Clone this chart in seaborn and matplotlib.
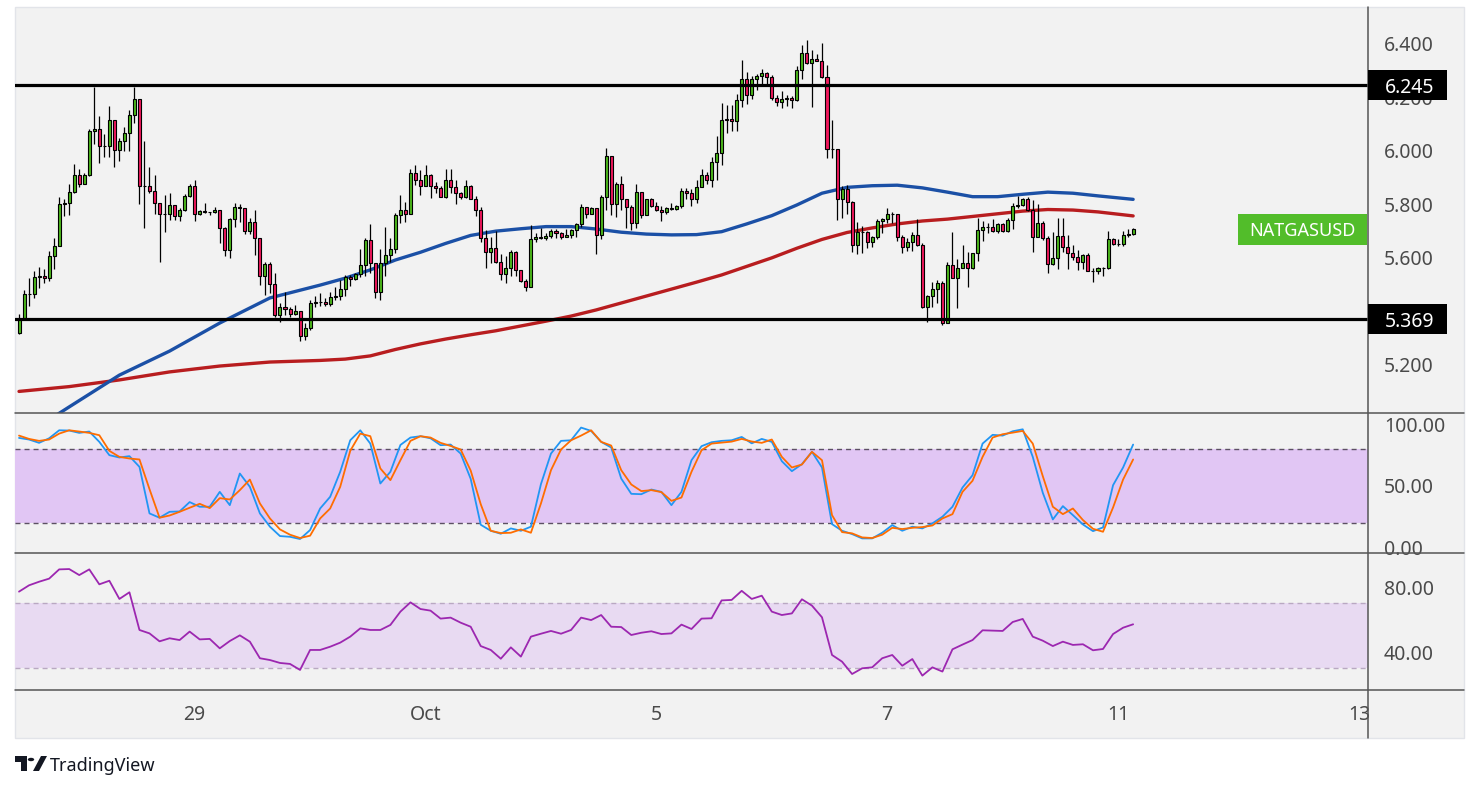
import numpy as np
import pandas as pd
import seaborn as sns
import matplotlib.pyplot as plt
from matplotlib.lines import Line2D
from matplotlib.patches import Rectangle, Polygon, Circle

# ---- hourly candles (bar 0 = first visible bar), open = previous close ----
first_open = 5.317
closes = [
    5.369, 5.463, 5.463, 5.529, 5.531, 5.525, 5.606, 5.644, 5.800, 5.803,
    5.844, 5.911, 5.877, 5.911, 6.073, 6.083, 6.018, 6.018, 6.114, 6.002,
    6.036, 6.068, 6.135, 6.195, 5.869, 5.869, 5.850, 5.806, 5.762, 5.764,
    5.796, 5.755, 5.778, 5.830, 5.868, 5.765, 5.774, 5.772, 5.770, 5.780,
    5.709, 5.628, 5.743, 5.790, 5.784, 5.701, 5.735, 5.672, 5.532, 5.575,
    5.500, 5.385, 5.416, 5.407, 5.388, 5.400, 5.307, 5.335, 5.431, 5.435,
    5.435, 5.425, 5.454, 5.456, 5.481, 5.526, 5.519, 5.537, 5.572, 5.666,
    5.578, 5.473, 5.578, 5.610, 5.631, 5.759, 5.778, 5.765, 5.915, 5.890,
    5.869, 5.909, 5.869, 5.859, 5.825, 5.892, 5.865, 5.840, 5.825, 5.868,
    5.821, 5.780, 5.672, 5.622, 5.635, 5.585, 5.537, 5.560, 5.622, 5.553,
    5.514, 5.491, 5.668, 5.676, 5.674, 5.681, 5.699, 5.691, 5.676, 5.684,
    5.703, 5.724, 5.788, 5.765, 5.784, 5.684, 5.825, 5.980, 5.799, 5.874,
    5.818, 5.790, 5.730, 5.844, 5.759, 5.818, 5.793, 5.780, 5.772, 5.784,
    5.781, 5.793, 5.850, 5.843, 5.821, 5.865, 5.909, 5.892, 5.956, 5.993,
    6.114, 6.120, 6.112, 6.191, 6.270, 6.210, 6.270, 6.279, 6.292, 6.276,
    6.198, 6.183, 6.193, 6.199, 6.191, 6.301, 6.367, 6.330, 6.345, 6.336,
    6.276, 6.005, 6.008, 5.821, 5.855, 5.809, 5.647, 5.697, 5.697, 5.659,
    5.676, 5.737, 5.743, 5.762, 5.762, 5.678, 5.638, 5.657, 5.684, 5.647,
    5.416, 5.456, 5.482, 5.504, 5.354, 5.572, 5.522, 5.560, 5.578, 5.560,
    5.616, 5.703, 5.716, 5.716, 5.699, 5.724, 5.699, 5.740, 5.793, 5.796,
    5.821, 5.778, 5.678, 5.728, 5.674, 5.575, 5.597, 5.681, 5.641, 5.616,
    5.603, 5.582, 5.610, 5.551, 5.551, 5.562, 5.560, 5.668, 5.649, 5.649,
    5.684, 5.687, 5.707,
]
highs = [
    5.388, 5.479, 5.522, 5.551, 5.563, 5.556, 5.625, 5.672, 5.828, 5.821,
    5.875, 5.952, 5.933, 5.915, 6.081, 6.239, 6.129, 6.064, 6.167, 6.114,
    6.049, 6.089, 6.152, 6.239, 6.195, 6.036, 5.940, 5.909, 5.806, 5.834,
    5.840, 5.796, 5.784, 5.838, 5.877, 5.890, 5.780, 5.803, 5.772, 5.790,
    5.780, 5.716, 5.749, 5.803, 5.799, 5.784, 5.747, 5.780, 5.672, 5.585,
    5.585, 5.541, 5.431, 5.473, 5.416, 5.423, 5.400, 5.354, 5.441, 5.458,
    5.466, 5.448, 5.473, 5.491, 5.516, 5.535, 5.535, 5.544, 5.632, 5.672,
    5.725, 5.578, 5.632, 5.716, 5.672, 5.768, 5.834, 5.809, 5.933, 5.948,
    5.927, 5.948, 5.912, 5.884, 5.868, 5.930, 5.930, 5.890, 5.846, 5.892,
    5.871, 5.830, 5.790, 5.703, 5.678, 5.699, 5.613, 5.607, 5.628, 5.626,
    5.553, 5.519, 5.722, 5.693, 5.709, 5.693, 5.707, 5.707, 5.697, 5.707,
    5.707, 5.730, 5.799, 5.790, 5.790, 5.786, 5.834, 6.011, 5.980, 5.884,
    5.905, 5.821, 5.796, 5.877, 5.846, 5.821, 5.824, 5.809, 5.793, 5.790,
    5.803, 5.796, 5.859, 5.859, 5.855, 5.890, 5.930, 5.921, 5.975, 6.054,
    6.177, 6.170, 6.170, 6.211, 6.338, 6.295, 6.279, 6.286, 6.307, 6.295,
    6.282, 6.210, 6.223, 6.210, 6.205, 6.316, 6.395, 6.413, 6.376, 6.363,
    6.405, 6.320, 6.114, 6.008, 5.869, 5.871, 5.813, 5.732, 5.718, 5.701,
    5.682, 5.743, 5.750, 5.784, 5.772, 5.765, 5.684, 5.674, 5.697, 5.743,
    5.656, 5.460, 5.507, 5.516, 5.514, 5.582, 5.697, 5.595, 5.647, 5.622,
    5.618, 5.747, 5.738, 5.728, 5.743, 5.730, 5.728, 5.747, 5.803, 5.831,
    5.824, 5.825, 5.815, 5.800, 5.738, 5.682, 5.697, 5.750, 5.750, 5.684,
    5.647, 5.628, 5.612, 5.618, 5.560, 5.566, 5.566, 5.699, 5.672, 5.668,
    5.701, 5.707, 5.709,
]
lows = [
    5.313, 5.373, 5.419, 5.450, 5.487, 5.504, 5.514, 5.556, 5.644, 5.757,
    5.759, 5.840, 5.865, 5.875, 5.906, 6.027, 5.955, 5.975, 5.975, 5.940,
    5.962, 6.000, 6.000, 6.104, 5.799, 5.712, 5.840, 5.763, 5.585, 5.697,
    5.740, 5.740, 5.737, 5.775, 5.828, 5.738, 5.758, 5.768, 5.758, 5.768,
    5.656, 5.606, 5.600, 5.713, 5.733, 5.688, 5.687, 5.610, 5.497, 5.460,
    5.466, 5.379, 5.360, 5.385, 5.377, 5.385, 5.286, 5.292, 5.329, 5.416,
    5.419, 5.419, 5.419, 5.441, 5.441, 5.458, 5.494, 5.516, 5.529, 5.531,
    5.541, 5.448, 5.441, 5.532, 5.582, 5.618, 5.730, 5.734, 5.763, 5.871,
    5.836, 5.868, 5.824, 5.843, 5.825, 5.824, 5.840, 5.799, 5.818, 5.824,
    5.819, 5.757, 5.657, 5.562, 5.578, 5.578, 5.516, 5.506, 5.531, 5.531,
    5.510, 5.476, 5.491, 5.659, 5.668, 5.666, 5.674, 5.674, 5.668, 5.676,
    5.672, 5.678, 5.716, 5.747, 5.762, 5.612, 5.668, 5.778, 5.759, 5.753,
    5.778, 5.712, 5.703, 5.712, 5.749, 5.759, 5.790, 5.775, 5.738, 5.765,
    5.778, 5.778, 5.786, 5.821, 5.794, 5.803, 5.865, 5.875, 5.865, 5.892,
    5.948, 6.067, 6.073, 6.074, 6.164, 6.174, 6.195, 6.226, 6.251, 6.251,
    6.189, 6.168, 6.160, 6.168, 6.160, 6.186, 6.270, 6.323, 6.164, 6.335,
    6.272, 5.973, 5.971, 5.740, 5.747, 5.763, 5.622, 5.613, 5.616, 5.637,
    5.641, 5.668, 5.693, 5.728, 5.730, 5.663, 5.618, 5.626, 5.625, 5.643,
    5.410, 5.360, 5.414, 5.429, 5.348, 5.354, 5.522, 5.413, 5.566, 5.491,
    5.557, 5.588, 5.663, 5.691, 5.697, 5.691, 5.697, 5.697, 5.707, 5.784,
    5.793, 5.775, 5.622, 5.676, 5.666, 5.544, 5.572, 5.556, 5.622, 5.556,
    5.591, 5.553, 5.556, 5.551, 5.507, 5.539, 5.532, 5.557, 5.647, 5.643,
    5.643, 5.678, 5.684,
]

# ---- moving averages, read at these bars ----
ma_bars = [0, 10, 20, 30, 40, 50, 60, 65, 70, 75, 80, 85, 90, 95, 100, 105,
           110, 115, 120, 125, 130, 135, 140, 145, 150, 155, 160, 165, 170,
           175, 180, 185, 190, 195, 200, 205, 210, 215, 222]
ma_fast = [4.921, 5.041, 5.160, 5.250, 5.355, 5.449, 5.497, 5.523, 5.554,
           5.591, 5.620, 5.653, 5.683, 5.699, 5.708, 5.716, 5.716, 5.707,
           5.695, 5.688, 5.685, 5.686, 5.697, 5.726, 5.757, 5.797, 5.841,
           5.863, 5.869, 5.871, 5.861, 5.845, 5.828, 5.828, 5.837, 5.845,
           5.841, 5.831, 5.818]
ma_slow = [5.099, 5.117, 5.142, 5.172, 5.194, 5.209, 5.215, 5.220, 5.232,
           5.256, 5.277, 5.295, 5.311, 5.326, 5.344, 5.362, 5.381, 5.404,
           5.430, 5.456, 5.482, 5.508, 5.535, 5.567, 5.599, 5.635, 5.668,
           5.694, 5.711, 5.726, 5.737, 5.744, 5.754, 5.764, 5.774, 5.780,
           5.778, 5.771, 5.756]

# ---- oscillators, read every second bar ----
osc_bars = list(range(0, 223, 2))
stoch_k = [
    88.9, 87.6, 84.9, 88.6, 95.1, 94.9, 93.0, 94.1, 85.7, 74.9,
    73.0, 74.1, 65.4, 27.6, 24.1, 28.9, 29.2, 36.8, 33.0, 33.0,
    45.1, 34.3, 60.0, 49.2, 27.6, 16.8, 9.2, 8.6, 6.8, 14.1,
    31.6, 41.1, 61.4, 87.0, 95.1, 84.3, 51.9, 61.4, 83.2, 89.2,
    90.3, 88.6, 83.0, 83.5, 76.2, 55.7, 18.4, 13.5, 11.1, 15.4,
    13.5, 16.8, 51.4, 76.2, 86.5, 87.0, 97.3, 94.6, 85.7, 81.1,
    55.9, 43.5, 43.2, 47.0, 45.1, 34.3, 45.1, 70.8, 82.2, 85.4,
    86.5, 87.0, 89.7, 84.5, 88.1, 85.7, 70.0, 61.9, 67.6, 77.6,
    64.9, 18.9, 13.5, 10.8, 7.3, 7.3, 11.9, 18.1, 13.5, 16.8,
    15.4, 19.5, 24.9, 33.0, 48.6, 58.6, 84.3, 91.4, 90.8, 94.3,
    95.9, 73.5, 44.3, 22.7, 33.5, 26.2, 18.6, 13.2, 16.2, 50.5,
    64.9, 83.5,
]
stoch_d = [
    90.8, 88.1, 86.5, 87.6, 92.4, 95.1, 94.1, 93.0, 91.1, 78.4,
    73.5, 72.2, 71.4, 47.3, 24.1, 25.9, 28.9, 32.2, 35.4, 31.9,
    40.0, 38.9, 46.5, 55.1, 35.7, 23.5, 14.6, 10.3, 7.6, 9.5,
    23.5, 31.6, 49.2, 78.4, 92.4, 90.3, 64.1, 54.6, 70.8, 86.5,
    90.3, 89.2, 84.9, 82.4, 79.5, 62.4, 35.1, 13.5, 11.6, 11.9,
    14.6, 11.9, 35.7, 62.7, 79.5, 87.0, 90.8, 95.1, 85.7, 82.7,
    62.7, 51.1, 45.7, 46.5, 44.9, 37.8, 40.5, 61.4, 78.9, 84.3,
    85.1, 85.9, 88.1, 86.0, 84.9, 87.6, 73.5, 64.9, 67.3, 77.6,
    70.8, 26.2, 12.4, 11.4, 8.1, 7.6, 10.3, 15.9, 14.9, 15.9,
    16.5, 17.8, 23.5, 27.0, 45.1, 54.1, 73.5, 89.2, 91.9, 93.2,
    94.6, 84.3, 57.8, 33.0, 27.0, 31.6, 22.2, 15.1, 12.7, 32.4,
    55.1, 71.4,
]
rsi = [
    77.2, 81.1, 83.3, 85.2, 90.9, 91.1, 87.4, 90.9, 81.7, 83.9,
    72.7, 76.8, 53.6, 51.5, 46.6, 48.5, 47.4, 52.6, 47.8, 48.1,
    42.3, 46.8, 50.3, 46.4, 36.2, 35.1, 33.3, 32.7, 29.0, 41.3,
    41.3, 43.3, 45.8, 49.5, 54.6, 53.6, 53.6, 56.7, 64.9, 70.6,
    66.5, 65.5, 60.6, 61.2, 58.1, 55.6, 43.7, 41.3, 35.9, 42.9,
    37.2, 49.5, 51.3, 53.0, 51.3, 53.6, 61.2, 59.7, 62.8, 55.6,
    55.4, 50.5, 51.9, 52.8, 51.1, 51.5, 56.9, 54.2, 60.6, 60.8,
    71.8, 72.1, 77.7, 72.7, 74.7, 64.9, 62.8, 63.8, 72.5, 68.6,
    61.4, 38.2, 34.1, 26.5, 30.0, 30.6, 36.2, 38.2, 31.6, 35.7,
    25.5, 30.6, 28.0, 41.7, 44.6, 47.4, 53.4, 53.2, 53.0, 58.5,
    60.4, 49.5, 47.0, 43.7, 46.4, 44.4, 44.8, 41.1, 41.9, 51.1,
    55.0, 57.1,
]

resistance = 6.245
support = 5.369
symbol = "NATGASUSD"
price_ticks = [5.2, 5.6, 5.8, 6.0, 6.2, 6.4]
stoch_ticks = [0, 50, 100]
rsi_ticks = [40, 80]
date_bars = [35, 81, 127, 173, 219, 267]
date_labels = ["29", "Oct", "5", "7", "11", "13"]

# ---- style ----
sns.set_theme(style="white")
plt.rcParams["font.family"] = ["Noto Sans", "DejaVu Sans"]

W, H = 1479, 791
fig = plt.figure(figsize=(W / 100, H / 100), dpi=100, facecolor="white")


def fx(px):
    return px / W


def fy(py):
    return 1 - py / H


PANEL = "#f2f2f2"
TXT = "#4a4a4a"
DIV = "#555555"
UP = "#4cb81c"
DOWN = "#f0185c"

fig.add_artist(Rectangle((fx(15), fy(738)), fx(1464) - fx(15), fy(7) - fy(738),
                         transform=fig.transFigure, facecolor=PANEL,
                         edgecolor="#e2e4e9", lw=1, zorder=-5))


def make_ax(top, bottom):
    ax = fig.add_axes([fx(15), fy(bottom), fx(1368) - fx(15), fy(top) - fy(bottom)])
    ax.set_facecolor("none")
    for s in ax.spines.values():
        s.set_visible(False)
    ax.set_xlim(-0.8, 268.8)
    ax.yaxis.tick_right()
    ax.tick_params(axis="y", length=0, pad=11.5, labelsize=14, labelcolor=TXT)
    ax.tick_params(axis="x", length=0, labelsize=14, labelcolor=TXT)
    ax.grid(False)
    return ax


ax_p = make_ax(7, 413)
ax_s = make_ax(413.3, 553.3)
ax_r = make_ax(553.3, 690)

# ---- price pane ----
bars = np.arange(len(closes))
c = np.array(closes)
o = np.concatenate([[first_open], c[:-1]])
h = np.array(highs)
lo = np.array(lows)
up = c >= o

ax_p.vlines(bars, lo, h, color="black", lw=0.9, zorder=3)
ax_p.bar(bars, np.abs(c - o), bottom=np.minimum(c, o), width=0.6,
         color=np.where(up, UP, DOWN), edgecolor="black", linewidth=0.8, zorder=4)

ma = pd.DataFrame({"bar": ma_bars, "fast": ma_fast, "slow": ma_slow})
sns.lineplot(data=ma, x="bar", y="slow", ax=ax_p, color="#b81d1f", lw=2.4,
             sort=False, zorder=2)
sns.lineplot(data=ma, x="bar", y="fast", ax=ax_p, color="#1b50a6", lw=2.4,
             sort=False, zorder=2)

for lvl in (resistance, support):
    ax_p.axhline(lvl, color="black", lw=2.3, zorder=5)

ax_p.set_ylim(5.0182, 6.5381)
ax_p.set_yticks(price_ticks, [f"{v:.3f}" for v in price_ticks])
ax_p.set_xticks([])
ax_p.set_xlabel("")
ax_p.set_ylabel("")

# ---- stochastic pane ----
osc = pd.DataFrame({"bar": osc_bars, "k": stoch_k, "d": stoch_d, "rsi": rsi})
ax_s.axhspan(20, 80, color="#e1c6f4", lw=0, zorder=0)
for lvl in (20, 80):
    ax_s.axhline(lvl, color="#5c5063", lw=1.0, ls=(0, (3.6, 2.9)), zorder=1)
sns.lineplot(data=osc, x="bar", y="k", ax=ax_s, color="#2196f3", lw=1.3, sort=False, zorder=3)
sns.lineplot(data=osc, x="bar", y="d", ax=ax_s, color="#ff6d00", lw=1.3, sort=False, zorder=3)
ax_s.set_ylim(-4.8, 108.9)
ax_s.set_yticks(stoch_ticks, [f"{v:.2f}" for v in stoch_ticks])
ax_s.set_xticks([])
ax_s.set_xlabel("")
ax_s.set_ylabel("")

# ---- RSI pane ----
ax_r.axhspan(30, 70, color="#e8daf2", lw=0, zorder=0)
for lvl in (30, 70):
    ax_r.axhline(lvl, color="#b9a8c2", lw=1.0, ls=(0, (3.6, 2.9)), zorder=1)
sns.lineplot(data=osc, x="bar", y="rsi", ax=ax_r, color="#9c27b0", lw=1.3, sort=False, zorder=3)
ax_r.set_ylim(16.65, 100.8)
ax_r.set_yticks(rsi_ticks, [f"{v:.2f}" for v in rsi_ticks])
ax_r.set_xticks(date_bars, date_labels)
ax_r.tick_params(axis="x", pad=11)
ax_r.set_xlabel("")
ax_r.set_ylabel("")

# ---- pane dividers ----
for py in (413.3, 553.3, 690):
    fig.add_artist(Line2D([fx(15), fx(1464)], [fy(py), fy(py)], transform=fig.transFigure,
                          color=DIV, lw=1.1, zorder=3))
fig.add_artist(Line2D([fx(1368), fx(1368)], [fy(7), fy(738)], transform=fig.transFigure,
                      color=DIV, lw=1.1, zorder=3))


# ---- price labels on the scale ----
def fig_y(ax, v):
    disp = ax.transData.transform((0, v))
    return fig.transFigure.inverted().transform(disp)[1]


for lvl in (resistance, support):
    yy = fig_y(ax_p, lvl)
    fig.add_artist(Rectangle((fx(1368), yy - 15 / H), 79 / W, 30 / H,
                             transform=fig.transFigure, facecolor="black",
                             edgecolor="none", zorder=4))
    fig.text(fx(1410), yy, f"{lvl:.3f}", ha="center", va="center_baseline",
             color="white", fontsize=14, fontweight="bold", zorder=5)

yy = fig_y(ax_p, closes[-1])
fig.add_artist(Rectangle((fx(1238), yy - 15.5 / H), 129 / W, 31 / H,
                         transform=fig.transFigure, facecolor="#52bd2a",
                         edgecolor="none", zorder=4))
fig.text(fx(1302), yy, symbol, ha="center", va="center_baseline",
         color="white", fontsize=13, fontweight="bold", zorder=5)

# ---- TradingView mark ----
logo = "#131722"
fig.add_artist(Rectangle((fx(15), fy(762)), 12 / W, 6 / H, transform=fig.transFigure,
                         facecolor=logo, edgecolor="none"))
fig.add_artist(Rectangle((fx(21), fy(771)), 6 / W, 15 / H, transform=fig.transFigure,
                         facecolor=logo, edgecolor="none"))
fig.add_artist(Polygon([(fx(33), fy(771)), (fx(39), fy(771)), (fx(47), fy(756)),
                        (fx(41), fy(756))], closed=True, transform=fig.transFigure,
                       facecolor=logo, edgecolor="none"))
fig.add_artist(Circle((fx(31), fy(759.5)), 3.2 / W, transform=fig.transFigure,
                      facecolor=logo, edgecolor="none"))
fig.text(fx(50), fy(764), "TradingView", ha="left", va="center_baseline",
         color=logo, fontsize=13)

fig.savefig("out.png", dpi=100, facecolor="white")
